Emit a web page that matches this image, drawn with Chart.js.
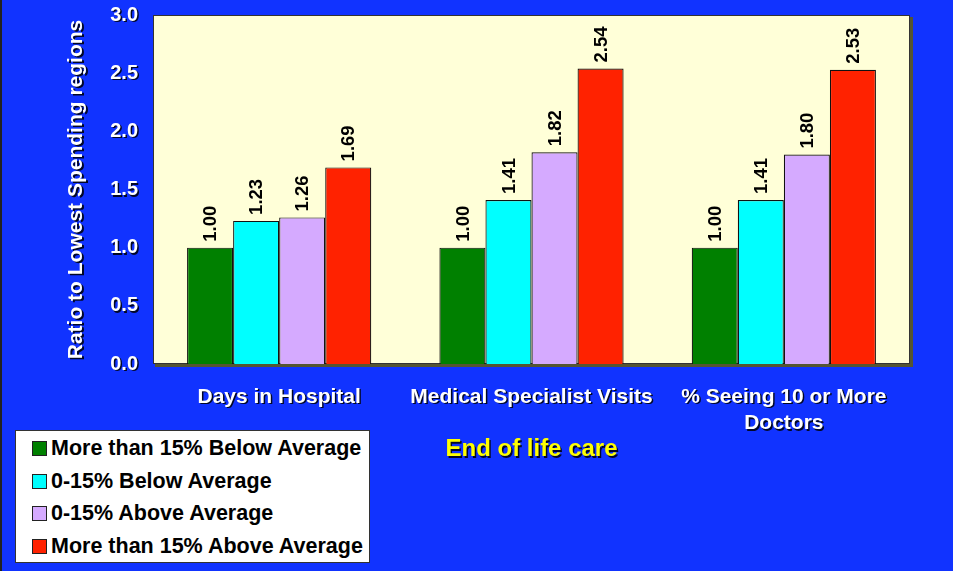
<!DOCTYPE html>
<html>
<head>
<meta charset="utf-8">
<script src="https://cdn.jsdelivr.net/npm/chart.js@4/dist/chart.umd.min.js"></script>
<style>
  html, body { margin: 0; padding: 0; }
  body { background: #1133ff; width: 953px; height: 571px; overflow: hidden; position: relative; }
  #frame { position: absolute; left: 0; top: 0; width: 953px; height: 571px; box-sizing: border-box; border-left: 2px solid #222; }
  #wrap { position: absolute; left: 0; top: 0; width: 953px; height: 571px; }
  #leyenda {
    position: absolute; left: 15px; top: 430px; width: 355px; height: 133px;
    box-sizing: border-box; background: #fff; border: 1px solid #333;
    font-family: "Liberation Sans", Arial, Helvetica, sans-serif; font-weight: bold; font-size: 21.5px;
    padding: 2px 0 0 16px;
  }
  .item { height: 32.5px; line-height: 30px; white-space: nowrap; }
  .caja { display: inline-block; width: 13px; height: 13px; border: 1px solid #222; margin-right: 4px; vertical-align: -1px; }
</style>
</head>
<body>
<div id="frame"></div>
<div id="wrap"><canvas id="graf"></canvas></div>
<div id="leyenda"></div>
<script>
// --- DATOS ---
const categorias = ["Days in Hospital", "Medical Specialist Visits", ["% Seeing 10 or More", "Doctors"]];
const series = [
  "More than 15% Below Average",
  "0-15% Below Average",
  "0-15% Above Average",
  "More than 15% Above Average"
];
const valoresMasBajo = [1.00, 1.00, 1.00];
const valoresBajo = [1.23, 1.41, 1.41];
const valoresAlto = [1.26, 1.82, 1.80];
const valoresMasAlto = [1.69, 2.54, 2.53];
const colores = ["#008000", "#00ffff", "#d5aaff", "#ff2200"];

const fuente = '"Liberation Sans", Arial, Helvetica, sans-serif';

// --- FONDO DEL AREA Y SOMBRA DEL TEXTO ---
const fondoPlugin = {
  id: "fondo",
  beforeDraw(chart) {
    const { ctx, chartArea: a } = chart;
    ctx.save();
    ctx.fillStyle = "#555533";
    ctx.fillRect(a.left + 2, a.top + 2, a.right - a.left + 1, a.bottom - a.top + 1);
    ctx.fillStyle = "#ffffd8";
    ctx.fillRect(a.left, a.top, a.right - a.left, a.bottom - a.top);
    ctx.strokeStyle = "#333";
    ctx.lineWidth = 1;
    ctx.strokeRect(a.left + 0.5, a.top + 0.5, a.right - a.left - 1, a.bottom - a.top - 1);
    ctx.restore();
    // sombra para los textos de los ejes
    ctx.shadowColor = "rgba(0,0,0,0.85)";
    ctx.shadowOffsetX = 1.5;
    ctx.shadowOffsetY = 1.5;
    ctx.shadowBlur = 0;
  },
  beforeDatasetsDraw(chart) {
    const ctx = chart.ctx;
    ctx.shadowColor = "rgba(0,0,0,0)";
    ctx.shadowOffsetX = 0;
    ctx.shadowOffsetY = 0;
  }
};

// --- ETIQUETAS DE VALOR (verticales) ---
const etiquetasPlugin = {
  id: "etiquetas",
  afterDatasetsDraw(chart) {
    const ctx = chart.ctx;
    ctx.save();
    ctx.fillStyle = "#000";
    ctx.font = "bold 18.5px " + fuente;
    ctx.textAlign = "left";
    ctx.textBaseline = "middle";
    chart.data.datasets.forEach((ds, i) => {
      chart.getDatasetMeta(i).data.forEach((bar, j) => {
        ctx.save();
        ctx.translate(bar.x + 1, bar.y - 6);
        ctx.rotate(-Math.PI / 2);
        ctx.fillText(ds.data[j].toFixed(2), 0, 0);
        ctx.restore();
      });
    });
    ctx.restore();
  }
};

const datos = [valoresMasBajo, valoresBajo, valoresAlto, valoresMasAlto];

const grafica = new Chart(document.getElementById("graf"), {
  type: "bar",
  data: {
    labels: categorias,
    datasets: series.map((nombre, i) => ({
      label: nombre,
      data: datos[i],
      backgroundColor: colores[i],
      borderColor: "#111",
      borderWidth: 1.2,
      categoryPercentage: 0.73,
      barPercentage: 1.0
    }))
  },
  options: {
    responsive: true,
    maintainAspectRatio: false,
    animation: false,
    layout: { padding: { left: 0, right: 43, top: 15, bottom: 0 } },
    plugins: {
      legend: { display: false },
      tooltip: { enabled: false }
    },
    scales: {
      x: {
        grid: { display: false, drawTicks: false },
        border: { display: false },
        ticks: {
          color: "#fff",
          font: { family: fuente, size: 21, weight: "bold", lineHeight: 1.25 },
          padding: 20,
          maxRotation: 0,
          autoSkip: false
        },
        title: {
          display: true,
          text: "End of life care",
          color: "#ffff00",
          font: { family: fuente, size: 24, weight: "bold" },
          padding: { top: 0, bottom: 107 }
        },
        afterFit(scale) { scale.height = 207; }
      },
      y: {
        min: 0,
        max: 3,
        grid: { display: false, drawTicks: false },
        border: { display: false },
        ticks: {
          stepSize: 0.5,
          color: "#fff",
          font: { family: fuente, size: 20, weight: "bold" },
          padding: 15,
          callback: v => v.toFixed(1)
        },
        title: {
          display: true,
          text: "Ratio to Lowest Spending regions",
          color: "#fff",
          font: { family: fuente, size: 21, weight: "bold" },
          padding: { top: 64, bottom: 0 }
        },
        afterFit(scale) {
          scale.width = 153;
          scale.paddingTop = 0;
          scale.paddingBottom = 0;
        }
      }
    }
  },
  plugins: [fondoPlugin, etiquetasPlugin]
});

// --- LEYENDA ---
const leyenda = document.getElementById("leyenda");
grafica.data.datasets.forEach(ds => {
  const fila = document.createElement("div");
  fila.className = "item";
  const caja = document.createElement("span");
  caja.className = "caja";
  caja.style.background = ds.backgroundColor;
  fila.appendChild(caja);
  fila.appendChild(document.createTextNode(ds.label));
  leyenda.appendChild(fila);
});
</script>
</body>
</html>
